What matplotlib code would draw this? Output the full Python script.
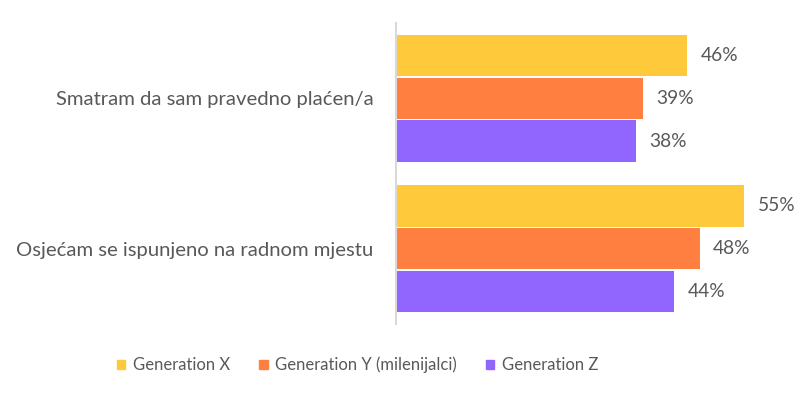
import matplotlib
matplotlib.use("Agg")
import matplotlib.pyplot as plt
from matplotlib.patches import Patch
import numpy as np

categories = ["Smatram da sam pravedno plaćen/a", "Osjećam se ispunjeno na radnom mjestu"]
series_names = ["Generation X", "Generation Y (milenijalci)", "Generation Z"]
gen_x = [46, 55]
gen_y = [39, 48]
gen_z = [38, 44]
colors = ["#FFC93C", "#FF7F41", "#9166FF"]

plt.rcParams['font.family'] = ['Lato', 'DejaVu Sans']
text_color = "#595959"

fig = plt.figure(figsize=(8.02, 3.99), dpi=100)
ax = fig.add_axes([395.5/802, (399-324)/399, (760-395.5)/802, (324-23)/399])

y = np.arange(len(categories))
step = 0.285
height = 0.275
for i, (vals, col) in enumerate(zip([gen_x, gen_y, gen_z], colors)):
    pos = y + (i - 1) * step
    ax.barh(pos, vals, height=height, color=col, label=series_names[i])
    for p, v in zip(pos, vals):
        ax.text(v + 2.1, p, f"{v}%", va="center", ha="left", fontsize=13.8, color=text_color)

ax.set_xlim(0, (760-395.5)/6.34)
ax.set_ylim(1.5, -0.5)
ax.set_yticks(y)
ax.set_yticklabels(categories, fontsize=14.6, color=text_color)
ax.tick_params(axis='y', length=0, pad=16)
ax.set_xticks([])
for s in ["top", "right", "bottom"]:
    ax.spines[s].set_visible(False)
ax.spines["left"].set_color("#D9D9D9")
ax.spines["left"].set_linewidth(1.5)

handles = [Patch(color=c, label=n) for c, n in zip(colors, series_names)]
fig.legend(handles=handles, loc="center", bbox_to_anchor=(0.446, 0.085), ncol=3,
           frameon=False, fontsize=12.0, labelcolor=text_color,
           handlelength=0.5, handleheight=0.5, handletextpad=0.45, columnspacing=1.75)

fig.savefig("out.png", dpi=100, facecolor="white")
